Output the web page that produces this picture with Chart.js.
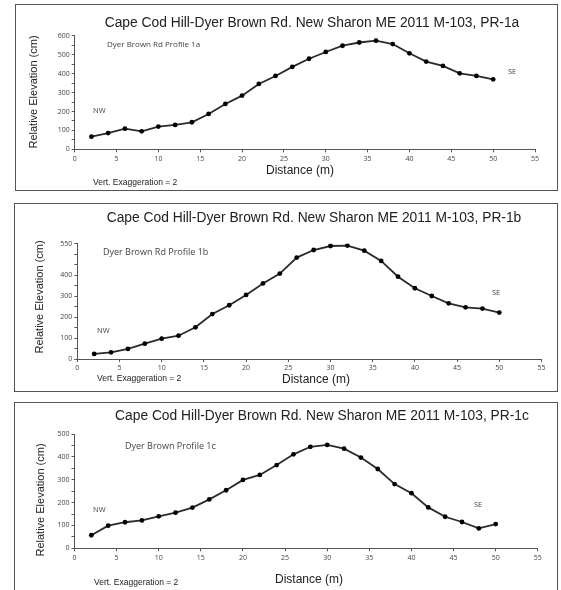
<!DOCTYPE html>
<html>
<head>
<meta charset="utf-8">
<script src="https://cdn.jsdelivr.net/npm/chart.js@4/dist/chart.umd.min.js"></script>
<style>
  body { margin: 0; background: #fff; width: 561px; height: 590px; overflow: hidden; position: relative; }
  .panel { position: absolute; border: 1px solid #555; box-sizing: border-box; background: #fff; }
  .panel canvas { position: absolute; left: 0; top: 0; }
</style>
</head>
<body>
<div class="panel" id="p1" style="left:15px;top:4px;width:543px;height:187px"><canvas id="chart1"></canvas></div>
<div class="panel" id="p2" style="left:14px;top:203px;width:544px;height:189px"><canvas id="chart2"></canvas></div>
<div class="panel" id="p3" style="left:14px;top:402px;width:544px;height:190px"><canvas id="chart3"></canvas></div>
<script>
// Distancias (m) de cada punto del perfil
const distancia = [2, 4, 6, 8, 10, 12, 14, 16, 18, 20, 22, 24, 26, 28, 30, 32, 34, 36, 38, 40, 42, 44, 46, 48, 50];

const elevacion1a = [67, 86, 109, 95, 120, 129, 143, 187, 240, 284, 346, 388, 436, 479, 515, 548, 565, 575, 557, 508, 464, 441, 402, 388, 370];
const elevacion1b = [24, 32, 48, 73, 97, 111, 151, 214, 256, 305, 360, 407, 483, 519, 538, 540, 516, 467, 392, 337, 300, 265, 246, 240, 221];
const elevacion1c = [57, 99, 114, 122, 140, 156, 178, 214, 254, 299, 321, 364, 411, 444, 452, 436, 397, 347, 281, 241, 179, 138, 115, 87, 106];

// Textos
const tituloBase = "Cape Cod Hill-Dyer Brown Rd. New Sharon ME 2011 M-103, ";
const perfiles = ["PR-1a", "PR-1b", "PR-1c"];
const etiquetasPerfil = ["Dyer Brown Rd Profile 1a", "Dyer Brown Rd Profile 1b", "Dyer Brown Profile 1c"];
const maximosY = [600, 550, 500];

document.addEventListener("DOMContentLoaded", function () {
  generarPerfil("chart1", elevacion1a, 0, {
    origen: [16, 5], tam: [541, 185], area: [74.7, 535, 35.9, 149.3],
    titulo: [312, 23], tituloY: [34, 92], tituloX: [300, 171], vert: [93, 183],
    perfil: [107, 45, 8], nw: [93, 111], se: [508, 72],
  });
  generarPerfil("chart2", elevacion1b, 1, {
    origen: [15, 204], tam: [542, 187], area: [77.3, 541.5, 243.5, 359],
    titulo: [314, 218], tituloY: [39.5, 297], tituloX: [316, 380], vert: [97, 379],
    perfil: [103, 252, 9], nw: [97, 331], se: [492, 293],
  });
  generarPerfil("chart3", elevacion1c, 2, {
    origen: [15, 403], tam: [542, 188], area: [74.5, 537.8, 434, 548.3],
    titulo: [322, 416], tituloY: [41, 500], tituloX: [309, 580], vert: [94, 583],
    perfil: [125, 446, 9], nw: [93, 510], se: [474, 505],
  });
});

// Etiquetas del eje Y: cada 100, salvo el caso del perfil 1b (0..400 y 550)
function etiquetaY(maximo) {
  return function (valor) {
    if (valor === maximo) return String(valor);
    if (valor % 100 !== 0) return "";
    if (maximo === 550 && valor === 500) return "";
    return String(valor);
  };
}

function generarPerfil(idCanvas, valores, indice, g) {
  const canvas = document.getElementById(idCanvas);
  canvas.width = g.tam[0];
  canvas.height = g.tam[1];
  canvas.style.width = g.tam[0] + "px";
  canvas.style.height = g.tam[1] + "px";

  const anchoY = 30;
  const altoX = 14;
  const izq = g.area[0] - g.origen[0];
  const der = g.area[1] - g.origen[0];
  const arriba = g.area[2] - g.origen[1];
  const abajo = g.area[3] - g.origen[1];

  const px = (p) => [p[0] - g.origen[0], p[1] - g.origen[1]];

  const textos = {
    id: "textos",
    afterDraw(chart) {
      const ctx = chart.ctx;
      ctx.save();
      ctx.fillStyle = "#222";
      ctx.textBaseline = "middle";

      ctx.font = "13.8px 'Liberation Sans', Arial, sans-serif";
      ctx.textAlign = "center";
      let p = px(g.titulo);
      ctx.fillText(tituloBase + perfiles[indice], p[0], p[1]);

      ctx.font = "12px 'Liberation Sans', Arial, sans-serif";
      p = px(g.tituloX);
      ctx.fillText("Distance (m)", p[0], p[1]);

      ctx.save();
      p = px(g.tituloY);
      ctx.translate(p[0], p[1]);
      ctx.rotate(-Math.PI / 2);
      ctx.font = "11px 'Liberation Sans', Arial, sans-serif";
      ctx.fillText("Relative Elevation (cm)", 0, 0);
      ctx.restore();

      ctx.textAlign = "left";
      ctx.font = "8.5px 'Liberation Sans', Arial, sans-serif";
      p = px(g.vert);
      ctx.fillText("Vert. Exaggeration = 2", p[0], p[1]);

      ctx.fillStyle = "#444";
      ctx.font = g.perfil[2] + "px 'Open Sans', sans-serif";
      p = px(g.perfil);
      ctx.fillText(etiquetasPerfil[indice], p[0], p[1]);

      ctx.font = "7.5px 'Open Sans', sans-serif";
      p = px(g.nw);
      ctx.fillText("NW", p[0], p[1]);
      p = px(g.se);
      ctx.fillText("SE", p[0], p[1]);
      ctx.restore();
    },
  };

  new Chart(canvas, {
    type: "line",
    data: {
      labels: distancia,
      datasets: [
        {
          label: perfiles[indice],
          data: distancia.map((d, i) => ({ x: d, y: valores[i] })),
          borderColor: "#2a2a2a",
          borderWidth: 1.8,
          pointBackgroundColor: "#000",
          pointBorderColor: "#000",
          pointRadius: 2.4,
          pointBorderWidth: 0,
          fill: false,
          tension: 0,
        },
      ],
    },
    options: {
      responsive: false,
      animation: false,
      events: [],
      layout: {
        padding: {
          left: izq - anchoY,
          right: g.tam[0] - der,
          top: arriba,
          bottom: g.tam[1] - abajo - altoX,
        },
      },
      plugins: {
        legend: { display: false },
        title: { display: false },
        tooltip: { enabled: false },
      },
      scales: {
        x: {
          type: "linear",
          min: 0,
          max: 55,
          afterFit: (s) => { s.height = altoX; },
          ticks: {
            stepSize: 5,
            color: "#444",
            font: { family: "'Open Sans', sans-serif", size: 7 },
            padding: 2,
            maxRotation: 0,
          },
          grid: { drawOnChartArea: false, tickLength: 3, color: "#555" },
          border: { color: "#555", width: 1 },
        },
        y: {
          min: 0,
          max: maximosY[indice],
          afterFit: (s) => { s.width = anchoY; },
          ticks: {
            stepSize: 50,
            autoSkip: false,
            callback: etiquetaY(maximosY[indice]),
            color: "#444",
            font: { family: "'Open Sans', sans-serif", size: 7 },
            padding: 2,
          },
          grid: { drawOnChartArea: false, tickLength: 3, color: "#555" },
          border: { color: "#555", width: 1 },
        },
      },
    },
    plugins: [textos],
  });
}
</script>
</body>
</html>
